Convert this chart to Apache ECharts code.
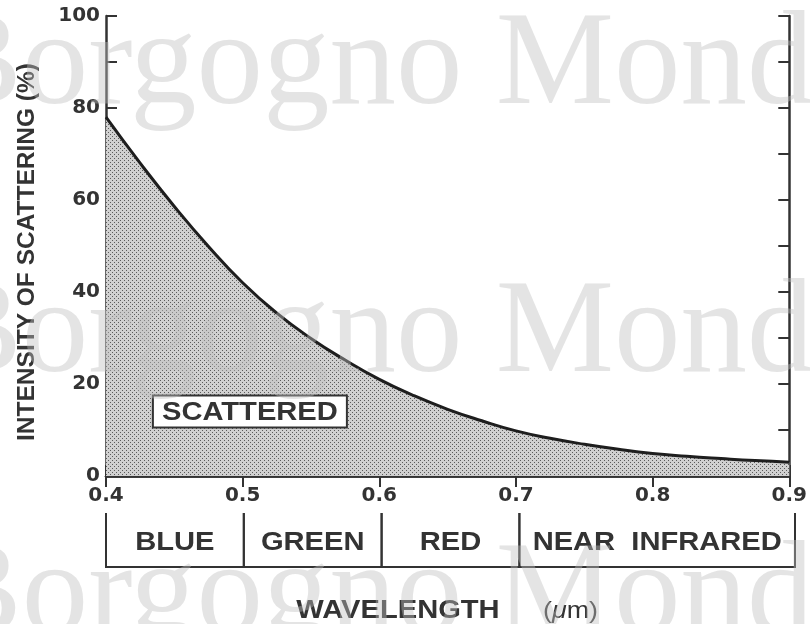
<!DOCTYPE html>
<html>
<head>
<meta charset="utf-8">
<script src="https://cdn.jsdelivr.net/npm/echarts@6/dist/echarts.min.js"></script>
<style>
  html, body { margin: 0; padding: 0; background: #fff; }
  #chart { width: 810px; height: 624px; }
</style>
</head>
<body>
<div id="chart"></div>
<script>
// Wavelength (µm) and relative scattering intensity (%)
const wavelength = [0.40, 0.425, 0.45, 0.475, 0.50, 0.525, 0.55, 0.575, 0.60, 0.625, 0.65,
                    0.675, 0.70, 0.725, 0.75, 0.775, 0.80, 0.825, 0.85, 0.875, 0.90];
const intensity  = [78.0, 68.0, 58.6, 49.9, 42.0, 35.4, 29.9, 25.2, 21.0, 17.5, 14.5,
                    12.0, 9.8, 8.2, 6.9, 5.8, 4.9, 4.3, 3.8, 3.35, 3.0];

// Spectral bands under the wavelength axis
const bandStart = [0.4, 0.5, 0.6, 0.7];
const bandEnd   = [0.5, 0.6, 0.7, 0.9];
const bandName  = ['BLUE', 'GREEN', 'RED', 'NEAR  INFRARED'];

// Boxed annotation inside the shaded area
const noteText = 'SCATTERED';
const noteAt = [0.5053, 14.0];

const xMin = 0.4, xMax = 0.9, xStep = 0.1;
const yMin = 0, yMax = 100, yStep = 10, yLabelStep = 20;

const ink = '#333';
const tickFont = '"DejaVu Sans", sans-serif';
const textFont = '"Liberation Sans", Arial, sans-serif';
const wide = 1.12;   // horizontal stretch of the lettering

// Stipple texture for the scattered region
const tex = document.createElement('canvas');
tex.width = 4; tex.height = 4;
const tctx = tex.getContext('2d');
tctx.fillStyle = '#d0d0d0';
tctx.fillRect(0, 0, 4, 4);
tctx.fillStyle = '#5a5a5a';
tctx.fillRect(0, 0, 1, 1);
tctx.fillRect(2, 2, 1, 1);

const chart = echarts.init(document.getElementById('chart'), null, { renderer: 'canvas' });

const axisLine = { show: true, lineStyle: { color: ink, width: 2.5 } };
const tickIn = { show: true, inside: true, length: 11, lineStyle: { color: ink, width: 2 } };

const curve = wavelength.map((w, i) => [w, intensity[i]]);
const bands = bandStart.map((s, i) => [s, bandEnd[i], bandName[i]]);

const watermarkRows = [68, 336, 598];

function label(text, x, y, size, extra) {
  return Object.assign({
    type: 'text', x: x, y: y, scaleX: wide,
    style: { text: text, fill: ink, fontFamily: textFont, fontWeight: 'bold',
             fontSize: size, align: 'center', verticalAlign: 'middle' }
  }, extra || {});
}

chart.setOption({
  backgroundColor: '#fff',
  animation: false,
  grid: [
    { left: 106, right: 15, top: 16, bottom: 148 },
    { left: 106, right: 15, top: 513, height: 54 }
  ],
  xAxis: [
    {
      type: 'value', gridIndex: 0, position: 'bottom',
      min: xMin, max: xMax, interval: xStep,
      axisLine: axisLine, axisTick: tickIn, splitLine: { show: false },
      axisLabel: {
        margin: 10, color: ink, fontFamily: tickFont, fontWeight: 'bold', fontSize: 20,
        formatter: v => v.toFixed(1)
      }
    },
    {
      type: 'value', gridIndex: 0, position: 'top',
      min: xMin, max: xMax, interval: xStep,
      axisLine: axisLine, axisTick: tickIn, splitLine: { show: false },
      axisLabel: { show: false }
    },
    { type: 'value', gridIndex: 1, min: xMin, max: xMax, show: false }
  ],
  yAxis: [
    {
      type: 'value', gridIndex: 0, position: 'left',
      min: yMin, max: yMax, interval: yStep,
      axisLine: axisLine, axisTick: tickIn, splitLine: { show: false },
      axisLabel: {
        margin: 6, color: ink, fontFamily: tickFont, fontWeight: 'bold', fontSize: 20,
        formatter: v => (v % yLabelStep === 0 ? String(v) : '')
      }
    },
    {
      type: 'value', gridIndex: 0, position: 'right',
      min: yMin, max: yMax, interval: yStep,
      axisLine: axisLine, axisTick: tickIn, splitLine: { show: false },
      axisLabel: { show: false }
    },
    { type: 'value', gridIndex: 1, min: 0, max: 1, show: false }
  ],
  series: [
    {
      type: 'line',
      xAxisIndex: 0, yAxisIndex: 0,
      data: curve,
      smooth: true,
      symbol: 'none',
      lineStyle: { color: '#1e1e1e', width: 3 },
      areaStyle: { color: { image: tex, repeat: 'repeat' }, opacity: 1 },
      z: 2
    },
    {
      // boxed "SCATTERED" note
      type: 'custom',
      xAxisIndex: 0, yAxisIndex: 0,
      data: [noteAt],
      z: 5,
      renderItem: (params, api) => {
        const p = api.coord([api.value(0), api.value(1)]);
        const w = 194, h = 32;
        return {
          type: 'group',
          children: [
            { type: 'rect', shape: { x: p[0] - w / 2, y: p[1] - h / 2, width: w, height: h },
              style: { fill: '#fff', stroke: ink, lineWidth: 2 } },
            label(noteText, p[0], p[1] + 1, 26)
          ]
        };
      }
    },
    {
      // spectral band boxes
      type: 'custom',
      xAxisIndex: 2, yAxisIndex: 2,
      data: bands,
      renderItem: (params, api) => {
        const s = api.value(0), e = api.value(1);
        const tl = api.coord([s, 1]), bl = api.coord([s, 0]);
        const tr = api.coord([e, 1]), br = api.coord([e, 0]);
        const mid = api.coord([(s + e) / 2, 0.45]);
        const ls = { stroke: ink, lineWidth: 2 };
        return {
          type: 'group',
          children: [
            { type: 'line', shape: { x1: tl[0], y1: tl[1], x2: bl[0], y2: bl[1] }, style: ls },
            { type: 'line', shape: { x1: tr[0], y1: tr[1], x2: br[0], y2: br[1] }, style: ls },
            { type: 'line', shape: { x1: bl[0] - 1, y1: bl[1], x2: br[0] + 1, y2: br[1] }, style: ls },
            label(bands[params.dataIndex][2], mid[0], mid[1], 26)
          ]
        };
      }
    }
  ],
  graphic: [
    label('INTENSITY OF SCATTERING (%)', 27, 252, 24.5, { rotation: Math.PI / 2, scaleX: 1 }),
    label('WAVELENGTH', 398, 611, 26),
    {
      type: 'text', x: 543, y: 611, scaleX: wide,
      style: {
        text: '{p|(}{u|μ}{p|m)}', align: 'left', verticalAlign: 'middle',
        rich: {
          p: { fill: ink, fontFamily: textFont, fontSize: 24 },
          u: { fill: ink, fontFamily: textFont, fontSize: 24, fontStyle: 'italic' }
        }
      }
    }
  ].concat(watermarkRows.map(y => ({
    type: 'text', x: -67, y: y, z: 100, silent: true,
    style: { text: 'Borgogno Mondo', fill: 'rgba(190,190,190,0.42)',
             fontFamily: '"Liberation Serif", serif', fontSize: 133,
             align: 'left', verticalAlign: 'middle' }
  })))
});
</script>
</body>
</html>
